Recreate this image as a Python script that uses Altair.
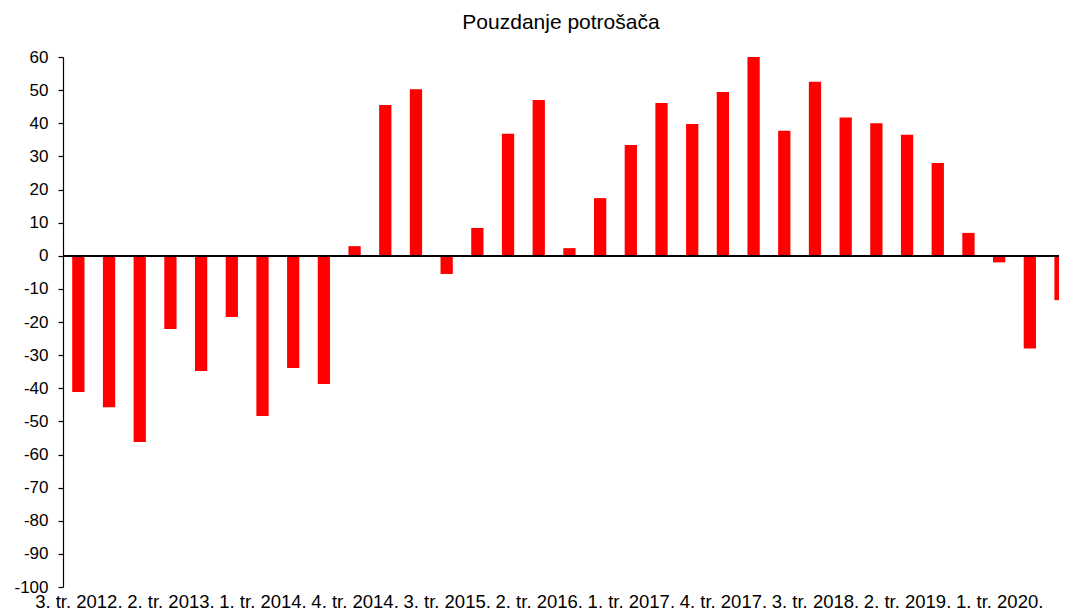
import altair as alt
import pandas as pd

quarters = [
    "3. tr. 2012.", "4. tr. 2012.", "1. tr. 2013.", "2. tr. 2013.", "3. tr. 2013.", "4. tr. 2013.",
    "1. tr. 2014.", "2. tr. 2014.", "3. tr. 2014.", "4. tr. 2014.", "1. tr. 2015.", "2. tr. 2015.",
    "3. tr. 2015.", "4. tr. 2015.", "1. tr. 2016.", "2. tr. 2016.", "3. tr. 2016.", "4. tr. 2016.",
    "1. tr. 2017.", "2. tr. 2017.", "3. tr. 2017.", "4. tr. 2017.", "1. tr. 2018.", "2. tr. 2018.",
    "3. tr. 2018.", "4. tr. 2018.", "1. tr. 2019.", "2. tr. 2019.", "3. tr. 2019.", "4. tr. 2019.",
    "1. tr. 2020.", "2. tr. 2020.", "3. tr. 2020.",
]
values = [
    -41.1, -45.7, -56.2, -22.1, -34.8, -18.5, -48.4, -33.9, -38.7, 2.9, 45.5, 50.3,
    -5.5, 8.4, 36.8, 47.0, 2.3, 17.4, 33.4, 46.1, 39.8, 49.4, 60.4, 37.7,
    52.5, 41.7, 40.0, 36.5, 28.0, 6.9, -2.0, -28.0, -13.4,
]
y_ticks = list(range(-100, 61, 10))
x_tick_idx = list(range(1, len(quarters) + 1, 3))

df = pd.DataFrame({"idx": list(range(1, len(quarters) + 1)), "label": quarters, "value": values})

label_arr = "[" + ",".join("'" + q + "'" for q in quarters) + "]"
label_expr = label_arr + "[datum.value - 1]"

FONT = "Liberation Sans"

y_axis = alt.Axis(values=y_ticks, title=None, grid=False, labelOverlap=False,
                  labelExpr="'' + datum.value", labelFlush=False,
                  domainColor="#000", domainWidth=1.2, tickColor="#000",
                  tickSize=5, tickWidth=1.2, labelFont=FONT, labelFontSize=17,
                  labelColor="#000", labelPadding=10)
y_scale = alt.Scale(domain=[-100, 60], nice=False)

bars = alt.Chart(df).transform_calculate(
    x0="datum.idx - 0.2", x1="datum.idx + 0.2"
).mark_bar(color="#FF0000", clip=True).encode(
    x=alt.X("x0:Q",
            scale=alt.Scale(domain=[0.5, 32.95], nice=False, zero=False),
            axis=alt.Axis(values=x_tick_idx, labelExpr=label_expr, title=None,
                          domain=False, ticks=False, grid=False, labelOverlap=False,
                          labelFont=FONT, labelFontSize=18.5, labelColor="#000",
                          labelPadding=5, labelFlush=False)),
    x2="x1:Q",
    y=alt.Y("value:Q", scale=y_scale, axis=y_axis),
    y2=alt.datum(0),
)

zero = alt.Chart(df).mark_rule(color="#000", strokeWidth=1.5).encode(
    y=alt.Y(datum=0, scale=y_scale, axis=y_axis)
)

chart = alt.layer(bars, zero).properties(
    width=996, height=530,
    background="white",
    title=alt.TitleParams("Pouzdanje potrošača", font=FONT, fontSize=21, fontWeight="normal",
                          color="#000", frame="group", anchor="middle", baseline="alphabetic",
                          offset=-2),
    autosize=alt.AutoSizeParams(type="none"),
    padding={"left": 55, "top": 49, "right": 0, "bottom": 24},
).configure_view(stroke="transparent", strokeWidth=0).configure_axis(grid=False)

chart.save("out.html", embed_options={"renderer": "svg", "actions": False})
